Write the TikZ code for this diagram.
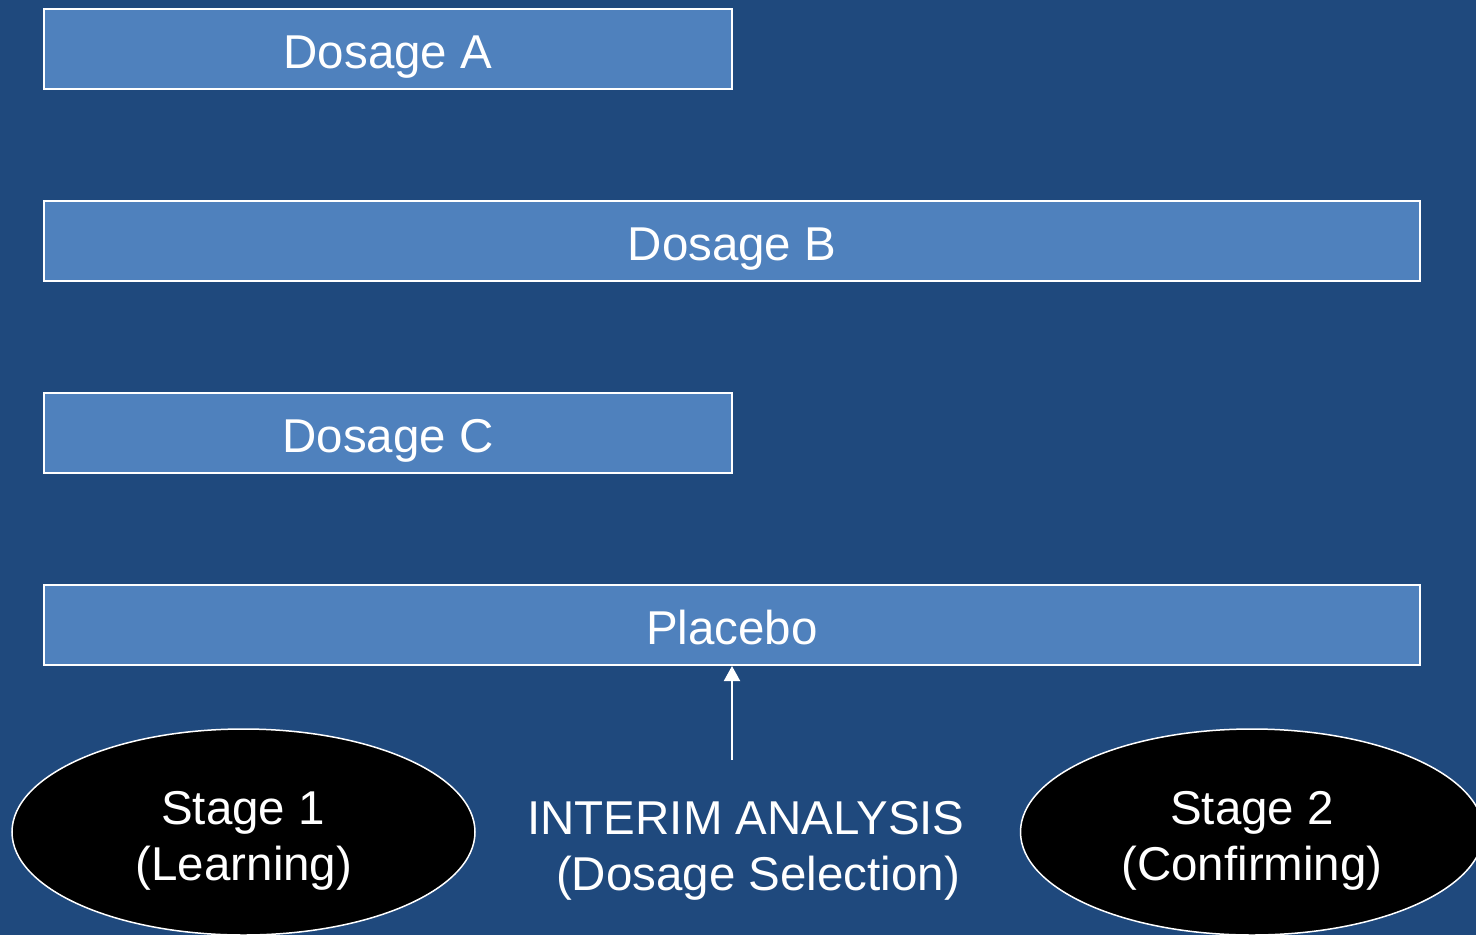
\documentclass[tikz,border=0pt]{standalone}
\usepackage{fontspec}
\setmainfont{Liberation Sans}
\usetikzlibrary{arrows.meta,shapes.geometric}
\definecolor{bgblue}{HTML}{1F497D}
\definecolor{armblue}{HTML}{4F81BD}
\tikzset{
  arm/.style={draw=white, line width=2pt, fill=armblue, minimum height=80pt,
    inner sep=0pt, anchor=north west},
  armtext/.style={text=white, anchor=base, inner sep=0pt,
    font=\fontsize{47.5}{58}\selectfont},
  stagebox/.style={ellipse, draw=white, line width=1.5pt, fill=black,
    minimum width=463pt, minimum height=206pt, inner sep=0pt},
  lbl/.style={text=white, anchor=base, inner sep=0pt,
    font=\fontsize{47.5}{58}\selectfont},
  pointer/.style={draw=white, line width=2pt,
    -{Triangle[width=16pt,length=15pt]}}
}
\begin{document}
\begin{tikzpicture}[x=1pt,y=-1pt]
  \fill[bgblue] (0,0) rectangle (1476,935);
  \useasboundingbox (0,0) rectangle (1476,935);
  \begin{scope}
    \clip (0,0) rectangle (1476,935);
    % treatment arms
    \node[arm, minimum width=688pt] (doseA) at (43,8) {};
    \node[arm, minimum width=1376pt] (doseB) at (43,200) {};
    \node[arm, minimum width=688pt] (doseC) at (43,392) {};
    \node[arm, minimum width=1376pt] (placebo) at (43,584) {};
    % stages
    \node[stagebox] (stage1) at (243.5,832) {};
    \node[stagebox] (stage2) at (1252,832) {};
  \end{scope}
  \node[armtext] (tA) at ([yshift=-19pt]doseA.center) {Dosage A};
  \node[armtext] (tB) at ([yshift=-19pt]doseB.center) {Dosage B};
  \node[armtext] (tC) at ([yshift=-19pt]doseC.center) {Dosage C};
  \node[armtext] (tP) at ([yshift=-19pt]placebo.center) {Placebo};
  \node[lbl] (s1a) at (243,824) {Stage 1};
  \node[lbl] (s1b) at (244,880) {(Learning)};
  \node[lbl] (s2a) at (1252,824) {Stage 2};
  \node[lbl] (s2b) at (1252,880) {(Confirming)};
  \node[lbl] (ia1) at (746,834) {INTERIM ANALYSIS};
  \node[lbl] (ia2) at (758,890) {(Dosage Selection)};
  % interim analysis pointer
  \coordinate (iatop) at (732,760);
  \draw[pointer] (iatop) -- (placebo.south);
\end{tikzpicture}
\end{document}
